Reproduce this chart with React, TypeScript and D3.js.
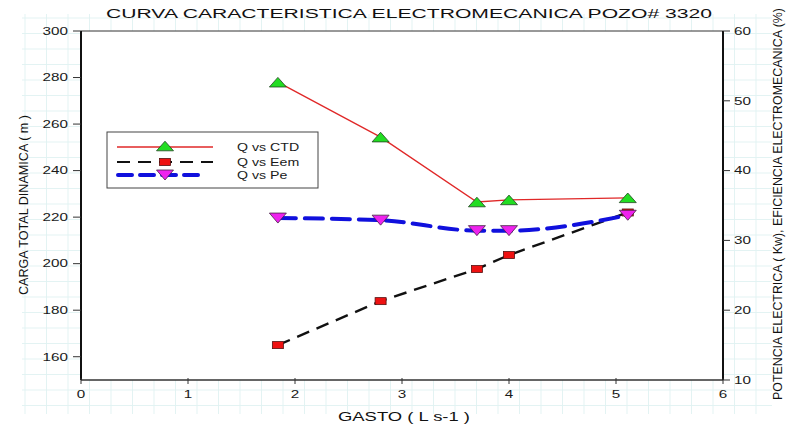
import React from "react";
import * as d3 from "d3";

// Caudal (GASTO, L/s) and measured curves
const gasto = [1.84, 2.8, 3.7, 4.0, 5.11];
const ctd = [278, 254.4, 226.5, 227.4, 228.3]; // carga total dinámica (m), left axis
const eem = [15.0, 21.3, 25.9, 27.9, 34.0]; // eficiencia electromecánica (%), right axis
const pe = [33.2, 32.9, 31.4, 31.4, 33.6]; // potencia eléctrica (Kw), right axis

const xTicks = [0, 1, 2, 3, 4, 5, 6];
const leftTicks = [160, 180, 200, 220, 240, 260, 280, 300];
const rightTicks = [10, 20, 30, 40, 50, 60];
const seriesNames = ["Q vs CTD", "Q vs Eem", "Q vs Pe"];

const W = 786;
const H = 425;
const plot = { left: 81, right: 723, top: 31, bottom: 380 };
const FONT = "'Liberation Sans', Arial, sans-serif";
const SX = 1.45; // horizontal text stretch

const x = d3.scaleLinear().domain([0, 6]).range([plot.left, plot.right]);
const yL = d3.scaleLinear().domain([150, 300]).range([plot.bottom, plot.top]);
const yR = d3.scaleLinear().domain([10, 60]).range([plot.bottom, plot.top]);

function SText({ x, y, size = 10.5, anchor = "start", sx = SX, fill = "#1a1a1a", children }: any) {
  return (
    <text
      transform={`translate(${x},${y}) scale(${sx},1)`}
      textAnchor={anchor}
      fontSize={size}
      fontFamily={FONT}
      fill={fill}
    >
      {children}
    </text>
  );
}

const triUp = (cx: number, cy: number) =>
  `M${cx - 8.5},${cy + 4.8} L${cx + 8.5},${cy + 4.8} L${cx},${cy - 4.8} Z`;
const triDown = (cx: number, cy: number) =>
  `M${cx - 8.5},${cy - 5} L${cx + 8.5},${cy - 5} L${cx},${cy + 5} Z`;

export default function App() {
  const ptsCtd = gasto.map((g, i) => [x(g), yL(ctd[i])] as [number, number]);
  const ptsEem = gasto.map((g, i) => [x(g), yR(eem[i])] as [number, number]);
  const ptsPe = gasto.map((g, i) => [x(g), yR(pe[i])] as [number, number]);

  const straight = d3.line();
  const smooth = d3.line().curve(d3.curveMonotoneX);

  // faint sheet grid in the margins
  const gridX = d3.range(25, 775, 21.5);
  const gridY = d3.range(18, 416, 15.5);

  const legendRows = [147, 162, 175];

  return (
    <svg
      width={W}
      height={H}
      style={{ position: "absolute", left: 0, top: 0, background: "#fff" }}
    >
      <g stroke="#e0f2f2" strokeWidth={0.9}>
        {gridX.map((gx) => (
          <line key={"gx" + gx} x1={gx} x2={gx} y1={14} y2={414} />
        ))}
        {gridY.map((gy) => (
          <line key={"gy" + gy} x1={22} x2={772} y1={gy} y2={gy} />
        ))}
      </g>

      {/* plot area */}
      <rect
        x={plot.left}
        y={plot.top}
        width={plot.right - plot.left}
        height={plot.bottom - plot.top}
        fill="#fff"
      />

      {/* frame */}
      <line x1={plot.left} x2={plot.right} y1={plot.top} y2={plot.top} stroke="#333" strokeWidth={1} />
      <line x1={plot.left} x2={plot.right} y1={plot.bottom} y2={plot.bottom} stroke="#333" strokeWidth={1.5} />
      <line x1={plot.left} x2={plot.left} y1={plot.top} y2={plot.bottom} stroke="#111" strokeWidth={2} />
      <line x1={plot.right} x2={plot.right} y1={plot.top} y2={plot.bottom} stroke="#111" strokeWidth={2} />

      {/* bottom axis */}
      {xTicks.map((t) => (
        <g key={"xt" + t}>
          <line x1={x(t)} x2={x(t)} y1={plot.bottom - 2} y2={plot.bottom + 4} stroke="#333" strokeWidth={1} />
          <SText x={x(t)} y={398} anchor="middle">{t}</SText>
        </g>
      ))}

      {/* left axis */}
      {leftTicks.map((t) => (
        <g key={"lt" + t}>
          <line x1={plot.left - 8} x2={plot.left} y1={yL(t)} y2={yL(t)} stroke="#333" strokeWidth={1} />
          <SText x={68} y={yL(t) + 3.8} anchor="end">{t}</SText>
        </g>
      ))}

      {/* right axis */}
      {rightTicks.map((t) => (
        <g key={"rt" + t}>
          <line x1={plot.right} x2={plot.right + 7} y1={yR(t)} y2={yR(t)} stroke="#333" strokeWidth={1} />
          <SText x={734} y={yR(t) + 3.8} anchor="start">{t}</SText>
        </g>
      ))}

      {/* titles */}
      <text
        x={106}
        y={18.3}
        fontSize={12.5}
        fontFamily={FONT}
        fill="#111"
        textLength={606}
        lengthAdjust="spacingAndGlyphs"
      >
        CURVA CARACTERISTICA ELECTROMECANICA POZO# 3320
      </text>
      <text
        x={338}
        y={421}
        fontSize={12.5}
        fontFamily={FONT}
        fill="#111"
        textLength={132}
        lengthAdjust="spacingAndGlyphs"
      >
        GASTO ( L s-1 )
      </text>
      <text
        transform="translate(27.5,205) rotate(-90)"
        textAnchor="middle"
        fontSize={12.5}
        fontFamily={FONT}
        fill="#111"
        textLength={180}
        lengthAdjust="spacingAndGlyphs"
      >
        CARGA TOTAL DINAMICA ( m )
      </text>
      <text
        transform="translate(782,204) rotate(-90)"
        textAnchor="middle"
        fontSize={12.5}
        fontFamily={FONT}
        fill="#111"
        textLength={392}
        lengthAdjust="spacingAndGlyphs"
      >
        POTENCIA ELECTRICA ( Kw), EFICIENCIA ELECTROMECANICA (%)
      </text>

      {/* series lines */}
      <path d={straight(ptsCtd) || ""} fill="none" stroke="#e02828" strokeWidth={1.3} />
      <path d={straight(ptsEem) || ""} fill="none" stroke="#111" strokeWidth={2.4} strokeDasharray="13,8" />
      <path d={smooth(ptsPe) || ""} fill="none" stroke="#1010dd" strokeWidth={4} strokeDasharray="18,9" strokeLinecap="round" />

      {/* markers */}
      {ptsEem.map(([px, py], i) => (
        <rect key={"sq" + i} x={px - 5.5} y={py - 3.5} width={11} height={7} fill="#ee1111" stroke="#551111" strokeWidth={0.8} />
      ))}
      {ptsPe.map(([px, py], i) => (
        <path key={"td" + i} d={triDown(px, py)} fill="#ee22ee" stroke="#442244" strokeWidth={0.8} />
      ))}
      {ptsCtd.map(([px, py], i) => (
        <path key={"tu" + i} d={triUp(px, py)} fill="#22dd22" stroke="#224422" strokeWidth={0.8} />
      ))}

      {/* legend */}
      <rect x={107} y={132} width={211} height={56} fill="#fff" stroke="#444" strokeWidth={1} />
      <line x1={117} x2={213} y1={legendRows[0]} y2={legendRows[0]} stroke="#e02828" strokeWidth={1.3} />
      <path d={triUp(165, legendRows[0] - 1)} fill="#22dd22" stroke="#224422" strokeWidth={0.8} />
      <line x1={117} x2={213} y1={legendRows[1]} y2={legendRows[1]} stroke="#111" strokeWidth={2.2} strokeDasharray="13,8" />
      <rect x={159.5} y={legendRows[1] - 3.5} width={11} height={7} fill="#ee1111" stroke="#551111" strokeWidth={0.8} />
      <line x1={118} x2={200} y1={legendRows[2]} y2={legendRows[2]} stroke="#1010dd" strokeWidth={4} strokeDasharray="14,8" strokeLinecap="round" />
      <path d={triDown(165, legendRows[2])} fill="#ee22ee" stroke="#442244" strokeWidth={0.8} />
      {seriesNames.map((n, i) => (
        <SText key={n} x={237} y={legendRows[i] + 3.8} size={10.5} sx={1.35}>{n}</SText>
      ))}
    </svg>
  );
}
